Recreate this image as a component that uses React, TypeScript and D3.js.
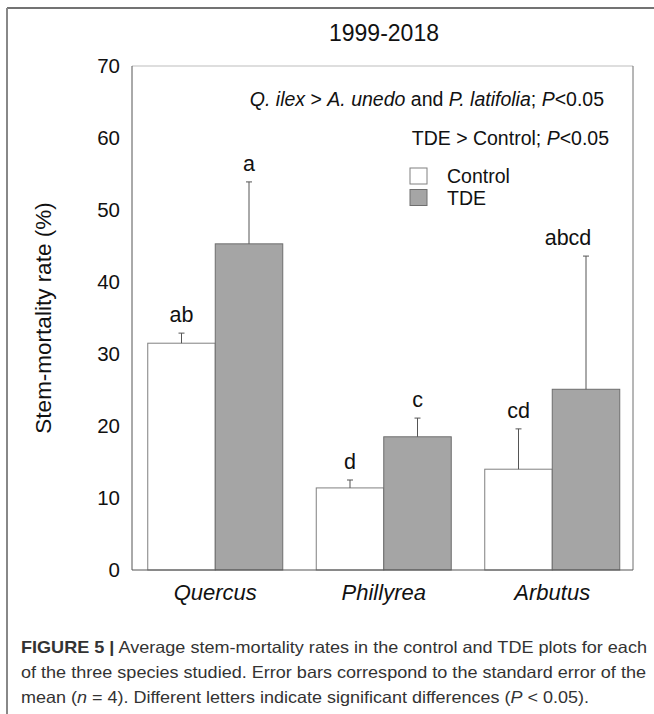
import React from 'react';
import * as d3 from 'd3';

const species = ['Quercus', 'Phillyrea', 'Arbutus'];
const treatments = ['Control', 'TDE'];
const controlMean = [31.5, 11.4, 14.0];
const controlSE = [1.4, 1.1, 5.6];
const tdeMean = [45.3, 18.5, 25.1];
const tdeSE = [8.6, 2.6, 18.5];
const controlLetters = ['ab', 'd', 'cd'];
const tdeLetters = ['a', 'c', 'abcd'];
const yTicks = [0, 10, 20, 30, 40, 50, 60, 70];

const FONT = "'Liberation Sans', Arial, sans-serif";

export default function App() {
  const W = 654, H = 714;
  const plot = { left: 132, right: 633, top: 66, bottom: 570 };
  const y = d3.scaleLinear().domain([0, 70]).range([plot.bottom, plot.top]);
  const x = d3.scaleBand<string>().domain(species).range([131, 636.5]).padding(0);
  const barW = 67.5;
  const inner = d3.scaleBand<string>().domain(treatments).range([-barW, barW]).padding(0);
  // horizontal nudge of the significance letters (layout only)
  const letterShift: Record<string, number> = { 'TDE-Arbutus': -18 };

  const series = [
    { key: 'Control', mean: controlMean, se: controlSE, letters: controlLetters, fill: '#ffffff', stroke: '#808080' },
    { key: 'TDE', mean: tdeMean, se: tdeSE, letters: tdeLetters, fill: '#a5a5a5', stroke: '#6e6e6e' },
  ];

  return (
    <svg width={W} height={H} style={{ position: 'absolute', left: 0, top: 0, background: '#fff' }} fontFamily={FONT}>
      {/* figure frame */}
      <line x1={7} y1={8} x2={W} y2={8} stroke="#444" strokeWidth={1.5} />
      <line x1={7} y1={8} x2={7} y2={H} stroke="#888" strokeWidth={2} />

      {/* title */}
      <text x={384} y={41} textAnchor="middle" fontSize={23} fill="#111">1999-2018</text>

      {/* plot frame */}
      <line x1={plot.left} y1={plot.top} x2={plot.right} y2={plot.top} stroke="#bdbdbd" strokeWidth={1} />
      <line x1={plot.right} y1={plot.top} x2={plot.right} y2={plot.bottom} stroke="#6e6e6e" strokeWidth={1} />

      {/* bars */}
      {series.map(s => (
        <g key={s.key}>
          {species.map((sp, i) => {
            const cx = (x(sp) as number) + x.bandwidth() / 2;
            const bx = cx + (inner(s.key) as number);
            const top = y(s.mean[i]);
            const errTop = y(s.mean[i] + s.se[i]);
            const mid = bx + barW / 2;
            return (
              <g key={sp}>
                <rect x={bx} y={top} width={barW} height={plot.bottom - top} fill={s.fill} stroke={s.stroke} strokeWidth={1} />
                <line x1={mid} x2={mid} y1={top} y2={errTop} stroke="#555" strokeWidth={1} />
                <line x1={mid - 3} x2={mid + 3} y1={errTop} y2={errTop} stroke="#555" strokeWidth={1} />
                <text x={mid + (letterShift[`${s.key}-${sp}`] || 0)} y={errTop - 11} textAnchor="middle" fontSize={21.5} fill="#111">{s.letters[i]}</text>
              </g>
            );
          })}
        </g>
      ))}

      {/* axes lines */}
      <line x1={plot.left} y1={plot.top} x2={plot.left} y2={plot.bottom} stroke="#555" strokeWidth={1} />
      <line x1={plot.left} y1={plot.bottom} x2={plot.right} y2={plot.bottom} stroke="#555" strokeWidth={1} />

      {/* y ticks */}
      {yTicks.map(t => (
        <text key={t} x={120} y={y(t)} dy="0.35em" textAnchor="end" fontSize={20.5} fill="#111">{t}</text>
      ))}
      <text transform={`translate(51,318) rotate(-90)`} textAnchor="middle" fontSize={22.5} fill="#111">Stem-mortality rate (%)</text>

      {/* x labels */}
      {species.map(sp => (
        <text key={sp} x={(x(sp) as number) + x.bandwidth() / 2} y={600} textAnchor="middle" fontSize={22} fontStyle="italic" fill="#111">{sp}</text>
      ))}

      {/* annotations */}
      <text x={604} y={106} textAnchor="end" fontSize={19.5} fill="#111">
        <tspan fontStyle="italic">Q. ilex</tspan>
        <tspan>{' > '}</tspan>
        <tspan fontStyle="italic">A. unedo</tspan>
        <tspan>{' and '}</tspan>
        <tspan fontStyle="italic">P. latifolia</tspan>
        <tspan>{'; '}</tspan>
        <tspan fontStyle="italic">P</tspan>
        <tspan>{'<0.05'}</tspan>
      </text>
      <text x={609} y={145} textAnchor="end" fontSize={19.5} fill="#111">
        <tspan>{'TDE > Control; '}</tspan>
        <tspan fontStyle="italic">P</tspan>
        <tspan>{'<0.05'}</tspan>
      </text>

      {/* legend */}
      {series.map((s, i) => (
        <g key={s.key} transform={`translate(410,${168 + i * 21.5})`}>
          <rect x={0} y={0} width={17} height={16} fill={s.fill} stroke={s.stroke} strokeWidth={1} />
          <text x={37} y={15} fontSize={19.5} fill="#111">{s.key}</text>
        </g>
      ))}

      {/* caption */}
      <g fontFamily="'Liberation Sans', Arial, sans-serif" fontSize={16.5} fill="#333">
        <text x={21} y={653} textLength={626} lengthAdjust="spacingAndGlyphs">
          <tspan fontWeight="bold">FIGURE 5 |</tspan>
          <tspan>{' Average stem-mortality rates in the control and TDE plots for each'}</tspan>
        </text>
        <text x={21} y={678} textLength={625} lengthAdjust="spacingAndGlyphs">
          of the three species studied. Error bars correspond to the standard error of the
        </text>
        <text x={21} y={703} textLength={568} lengthAdjust="spacingAndGlyphs">
          <tspan>{'mean ('}</tspan>
          <tspan fontStyle="italic">n</tspan>
          <tspan>{' = 4). Different letters indicate significant differences ('}</tspan>
          <tspan fontStyle="italic">P</tspan>
          <tspan>{' < 0.05).'}</tspan>
        </text>
      </g>
    </svg>
  );
}
